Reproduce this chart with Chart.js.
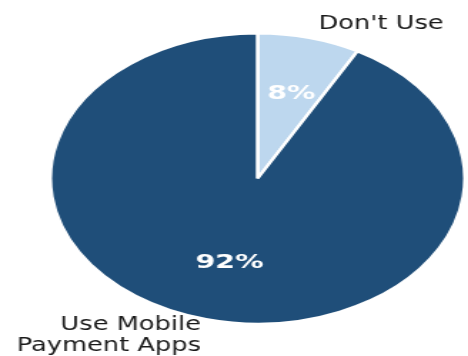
<!DOCTYPE html>
<html>
<head>
<meta charset="utf-8">
<script src="https://cdn.jsdelivr.net/npm/chart.js@4.4.1/dist/chart.umd.min.js"></script>
<style>
  html, body { margin: 0; padding: 0; background: #fff; overflow: hidden; }
  /* the reference is squashed sideways, so the whole chart is stretched */
  #wrap { width: 328px; height: 356px; transform: scaleX(1.427); transform-origin: 0 0; }
</style>
</head>
<body>
<div id="wrap"><canvas id="chart"></canvas></div>
<script>
const categories = ["Don't Use", "Use Mobile\nPayment Apps"];
const shares = [8, 92];
const pctLabels = ["8%", "92%"];
const colors = ["#bdd7ee", "#1f4e79"];

const pieLabels = {
    id: 'pieLabels',
    afterDatasetsDraw(chart) {
        const ctx = chart.ctx;
        const arcs = chart.getDatasetMeta(0).data;
        ctx.save();
        ctx.textBaseline = 'middle';
        arcs.forEach((arc, i) => {
            const p = arc.getProps(['x', 'y', 'startAngle', 'endAngle', 'outerRadius'], true);
            const mid = (p.startAngle + p.endAngle) / 2;
            const r = p.outerRadius;

            // percentage inside the slice
            ctx.fillStyle = '#ffffff';
            ctx.font = 'bold 20px "DejaVu Sans"';
            ctx.textAlign = 'center';
            ctx.fillText(pctLabels[i], p.x + Math.cos(mid) * r * 0.6 + 2, p.y + Math.sin(mid) * r * 0.6);

            // category name outside
            const lx = p.x + Math.cos(mid) * r * 1.1;
            const ly = p.y + Math.sin(mid) * r * 1.1;
            const lines = categories[i].split('\n');
            const lh = 21.5;
            ctx.fillStyle = '#1a1a1a';
            ctx.font = '18px "DejaVu Sans"';
            ctx.textAlign = Math.cos(mid) >= 0 ? 'left' : 'right';
            const dx = Math.cos(mid) >= 0 ? 3 : 0;
            const dy = Math.cos(mid) >= 0 ? 0 : 2;
            lines.forEach((t, k) => {
                ctx.save();
                ctx.translate(lx + dx, ly + dy + (k - (lines.length - 1) / 2) * lh);
                ctx.scale(1, 1.1);
                ctx.fillText(t, 0, 0);
                ctx.restore();
            });
        });
        ctx.restore();
    }
};

new Chart(document.getElementById('chart'), {
    type: 'pie',
    data: {
        labels: categories,
        datasets: [{
            data: shares,
            backgroundColor: colors,
            borderColor: '#ffffff',
            borderWidth: 2.5
        }]
    },
    options: {
        responsive: true,
        maintainAspectRatio: false,
        animation: false,
        layout: { padding: { left: 33, right: 0, top: 32, bottom: 31 } },
        plugins: {
            legend: { display: false },
            tooltip: { enabled: false }
        }
    },
    plugins: [pieLabels]
});
</script>
</body>
</html>
